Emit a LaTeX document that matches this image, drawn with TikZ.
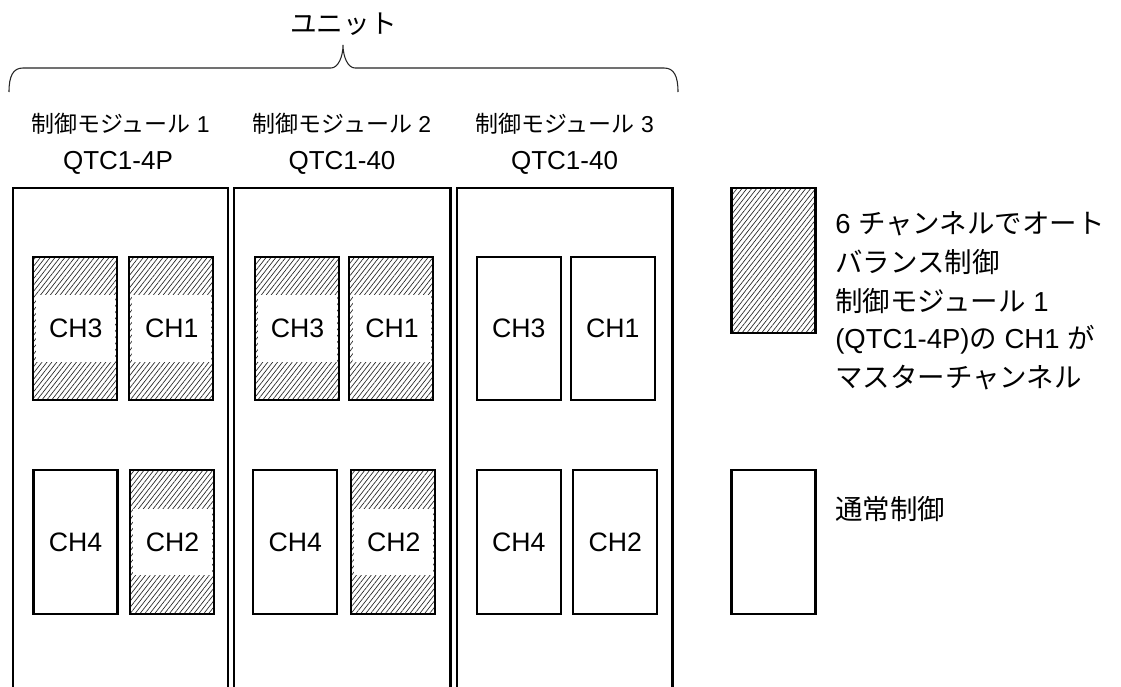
\documentclass[tikz,border=0pt]{standalone}
\usepackage{fontspec}
\setmainfont{Liberation Sans}
\newfontfamily\jp{Noto Sans CJK JP}
\usetikzlibrary{patterns.meta}
\tikzset{
  modline/.style={line width=1.6pt, draw=black},
  chbox/.style={draw=black, line width=1.6pt, minimum width=63pt, minimum height=107.5pt, inner sep=0pt, font=\fontsize{20}{23}\selectfont},
  hatched/.style={pattern={Lines[angle=52, distance=2.9pt, line width=0.5pt]}, pattern color=black!85},
  whitelbl/.style={fill=white, minimum width=59pt, minimum height=50pt, inner sep=0pt, font=\fontsize{20}{23}\selectfont},
  bracepath/.style={draw=black!85, line width=0.8pt},
  modlbl/.style={inner sep=0pt, font=\fontsize{17.25}{20}\selectfont},
  typelbl/.style={inner sep=0pt, font=\fontsize{19.5}{23}\selectfont},
  legtxt/.style={inner sep=0pt, anchor=west, font=\fontsize{20.6}{24}\selectfont}
}
\begin{document}
\begin{tikzpicture}[x=0.75pt, y=-0.75pt]
\useasboundingbox (0,0) rectangle (1121,686);
\clip (0,0) rectangle (1121,686);
\fill[white] (0,0) rectangle (1121,686);

% title and brace
\node[inner sep=0pt, font=\jp\fontsize{20}{24}\selectfont] (title) at (343.5,24) {ユニット};
\draw[bracepath] (9,92) .. controls (9,76) and (13,68) .. (23,68) -- (331,68)
  .. controls (338,68) and (343,57) .. (343,45)
  .. controls (343,57) and (348,68) .. (355,68) -- (664,68)
  .. controls (674,68) and (678,76) .. (678,92);

% module labels
\node[modlbl] (m1name) at (120.5,124) {{\jp 制御モジュール} 1};
\node[modlbl] (m2name) at (342,124) {{\jp 制御モジュール} 2};
\node[modlbl] (m3name) at (564.5,124) {{\jp 制御モジュール} 3};
\node[typelbl] (m1type) at (118,163) {QTC1-4P};
\node[typelbl] (m2type) at (342,163) {QTC1-40};
\node[typelbl] (m3type) at (564.5,163) {QTC1-40};

% module frames
\draw[modline] (13,700) -- (13,188) -- (228,188) -- (228,700);
\draw[modline] (234,700) -- (234,188) -- (450.5,188) -- (450.5,700);
\draw[modline] (457,700) -- (457,188) -- (672.5,188) -- (672.5,700);

% module 1 channels
\node[chbox, hatched] (m1c3) at (75,328.5) {};
\node[whitelbl] (m1c3l) at ([xshift=0.6pt]m1c3.center) {CH3};
\node[chbox, hatched] (m1c1) at (171,328.5) {};
\node[whitelbl] (m1c1l) at ([xshift=0.6pt]m1c1.center) {CH1};
\node[chbox] (m1c4) at (75.5,542) {CH4};
\node[chbox, hatched] (m1c2) at (171.8,542) {};
\node[whitelbl] (m1c2l) at ([xshift=0.6pt]m1c2.center) {CH2};

% module 2 channels
\node[chbox, hatched] (m2c3) at (296.8,328.5) {};
\node[whitelbl] (m2c3l) at ([xshift=0.6pt]m2c3.center) {CH3};
\node[chbox, hatched] (m2c1) at (391.2,328.5) {};
\node[whitelbl] (m2c1l) at ([xshift=0.6pt]m2c1.center) {CH1};
\node[chbox] (m2c4) at (295.2,542) {CH4};
\node[chbox, hatched] (m2c2) at (393,542) {};
\node[whitelbl] (m2c2l) at ([xshift=0.6pt]m2c2.center) {CH2};

% module 3 channels
\node[chbox] (m3c3) at (518.8,328.5) {CH3};
\node[chbox] (m3c1) at (612.8,328.5) {CH1};
\node[chbox] (m3c4) at (518.8,542) {CH4};
\node[chbox] (m3c2) at (615.2,542) {CH2};

% legend
\node[chbox, hatched, minimum height=108.75pt] (leghatch) at (773.5,260.5) {};
\node[legtxt] (leg1) at (835,224) {6 {\jp チャンネルでオート}};
\node[legtxt] (leg2) at (835,262.5) {\jp バランス制御};
\node[legtxt] (leg3) at (835,301) {{\jp 制御モジュール} 1};
\node[legtxt] (leg4) at (835,339.5) {(QTC1-4P){\jp の} CH1 {\jp が}};
\node[legtxt] (leg5) at (835,378) {\jp マスターチャンネル};

\node[chbox] (legplain) at (773.5,542) {};
\node[legtxt] (legnorm) at (835,509) {\jp 通常制御};
\end{tikzpicture}
\end{document}
